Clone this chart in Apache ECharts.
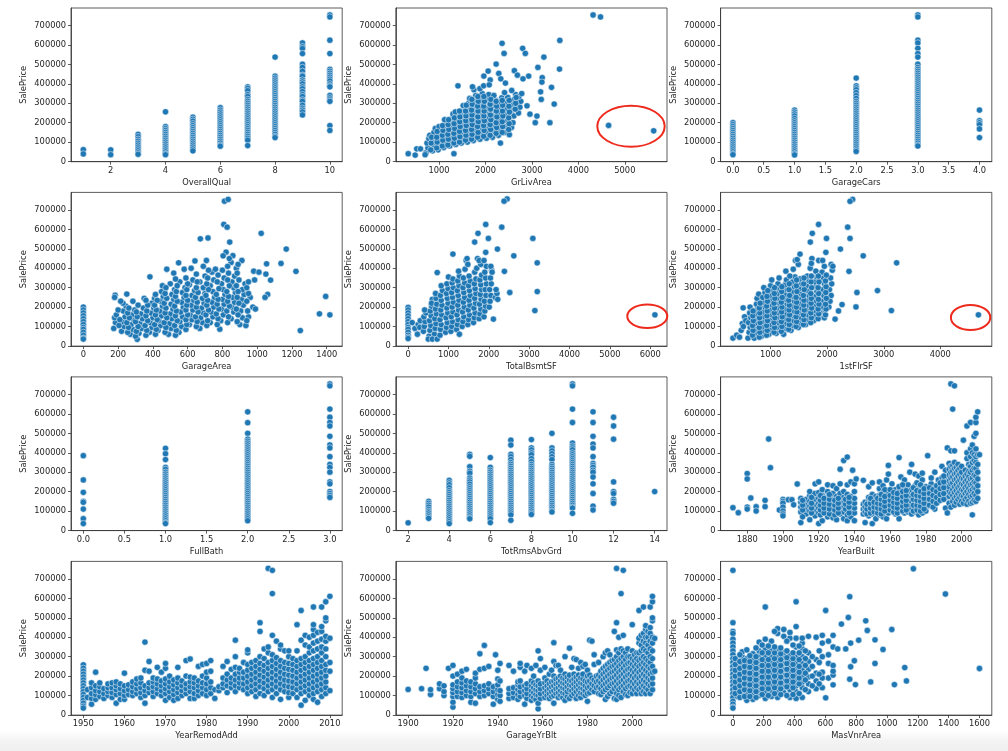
<!DOCTYPE html>
<html><head><meta charset="utf-8">
<script src="https://cdn.jsdelivr.net/npm/echarts@6/dist/echarts.min.js"></script>
<style>html,body{margin:0;padding:0;background:#fff}#c{width:1008px;height:751px}</style>
</head><body><div id="c"></div>
<script>
// ---------- tick labels ----------
const yTicks = [0,100000,200000,300000,400000,500000,600000,700000];
const yLimits = [-1105, 791005];

// ---------- data (SalePrice in thousands) ----------
const overallQualCols = [
 [1,[61,39]],[2,[60,35]],
 [3,[140,128,115,105,95,85,75,65,55,45,37]],
 [4,[256,180,170,160,150,140,130,120,110,100,90,80,70,60,50,40,35]],
 [5,[228,218,208,195,185,175,165,155,145,135,125,115,105,95,85,75,65,55]],
 [6,[277,265,255,245,235,225,215,205,195,185,175,165,155,145,135,125,115,105,95,85,79]],
 [7,[385,377,365,345,335,320,310,300,290,280,270,260,250,240,230,220,210,200,190,180,170,160,150,140,130,120,110,82]],
 [8,[538,440,430,420,410,400,390,380,370,360,350,340,330,320,310,300,290,280,270,260,250,240,230,220,210,200,190,180,170,160,150,140,130,123]],
 [9,[611,592,582,556,501,485,465,445,440,420,410,400,385,375,360,345,335,318,310,290,275,265,255,240]],
 [10,[755,745,625,556,475,465,455,445,435,425,415,400,390,385,340,328,318,310,185,160]]
];
const grLivAreaPts = [
 [720,45],[760,70],[740,95],[780,118],[800,135],
 [860,55],[900,82],[870,105],[910,128],[890,150],[920,170],
 [980,60],[1010,88],[1030,112],[990,135],[1040,158],[1000,180],
 [1100,72],[1130,98],[1150,122],[1110,145],[1140,170],[1160,195],[1120,215],
 [1230,80],[1260,105],[1280,128],[1240,150],[1270,175],[1250,200],[1290,222],[1300,245],
 [1360,88],[1390,112],[1410,138],[1370,160],[1400,185],[1380,210],[1420,235],[1350,255],
 [1480,95],[1510,120],[1530,145],[1490,168],[1520,192],[1540,215],[1500,240],[1550,262],[1520,288],
 [1610,100],[1640,128],[1660,152],[1620,175],[1650,200],[1670,225],[1630,250],[1680,275],[1640,300],[1660,325],
 [1740,108],[1770,135],[1790,160],[1750,185],[1780,210],[1800,235],[1760,260],[1810,285],[1770,310],[1790,340],[1750,370],[1720,385],
 [1880,115],[1910,142],[1930,168],[1890,195],[1920,220],[1940,245],[1900,270],[1950,295],[1910,320],[1930,350],[1880,375],[1960,390],
 [2020,120],[2050,148],[2070,175],[2030,200],[2060,225],[2080,250],[2040,275],[2090,300],[2050,325],[2070,345],[2100,420],[2080,395],
 [2150,125],[2180,155],[2200,182],[2160,208],[2190,235],[2210,262],[2170,288],[2220,315],[2180,340],
 [2280,135],[2310,165],[2330,192],[2290,220],[2320,248],[2340,275],[2300,300],[2350,328],
 [2420,150],[2450,180],[2470,210],[2430,240],[2460,270],[2440,300],[2480,330],[2410,355],
 [2560,175],[2590,200],[2610,235],[2570,265],[2600,295],[2620,320],[2650,345],
 [2710,250],[2740,280],[2760,310],[2720,335],[2780,350],
 [4316,755],[4476,745],[2357,609],[2400,557],[3600,624],[2800,583],[2857,557],[3257,538],[3128,485],[2229,502],
 [3593,476],[2621,468],[3221,432],[3214,409],[3421,382],[3186,359],[3200,320],[3479,296],[2957,244],[3107,234],
 [3071,200],[3386,200],[4650,186],[5621,158],[1407,390],[2929,440],[2807,426],[2686,445],[2057,466],[1964,440],
 [2286,454],[2329,426],[2429,404],[2564,366],[2893,287],[2514,138],[2321,95],[336,40],[486,33],[520,65],[600,65],[700,35],[1320,40]
];
const grLivAreaFill = [
 [820,60],[830,95],[840,125],[950,70],[960,100],[950,125],[960,155],[1070,80],[1080,110],[1070,135],[1085,160],[1075,185],
 [1190,85],[1200,115],[1190,140],[1210,165],[1195,190],[1205,215],[1320,95],[1330,120],[1320,145],[1335,170],[1325,195],[1330,225],
 [1440,100],[1450,128],[1440,155],[1455,180],[1445,205],[1450,230],[1440,260],[1570,110],[1580,135],[1570,160],[1585,185],[1575,210],
 [1580,235],[1570,260],[1585,290],[1700,115],[1710,140],[1700,165],[1715,190],[1705,215],[1710,240],[1700,265],[1715,295],[1705,320],
 [1830,125],[1840,150],[1830,180],[1845,205],[1835,230],[1840,260],[1830,285],[1845,310],[1835,335],[1960,130],[1970,160],[1960,185],
 [1975,210],[1965,235],[1970,260],[1960,285],[1975,310],[1965,335],[2100,135],[2110,165],[2100,190],[2115,215],[2105,240],[2110,270],
 [2100,295],[2115,320],[2230,145],[2240,175],[2230,200],[2245,230],[2235,260],[2240,285],[2230,310],[2360,150],[2370,180],[2360,205],
 [2375,235],[2365,260],[2370,290],[2360,315],[2500,165],[2510,195],[2500,225],[2515,255],[2505,285],[2510,315],[2640,270],[2650,300],[2660,330]
];
const garageCarsCols = [
 [0,[200,190,180,170,160,150,140,130,120,110,100,90,80,70,60,50,40,35]],
 [1,[265,255,245,235,222,210,200,190,180,170,160,150,140,130,120,110,100,90,80,70,60,50,40,34]],
 [2,[430,390,380,370,355,340,325,310,300,290,280,270,260,250,240,230,220,210,200,190,180,170,160,150,140,130,120,110,100,90,80,70,60,52]],
 [3,[755,745,625,611,583,556,538,501,485,475,465,455,445,435,425,415,405,395,385,375,365,355,345,335,325,315,305,295,285,275,265,255,245,235,225,215,205,195,185,175,165,155,145,135,125,115,105,95,85,80]],
 [4,[265,210,200,190,168,123]]
];
const garageAreaPts = [
 [0,200],[0,185],[0,170],[0,155],[0,140],[0,125],[0,110],[0,95],[0,85],[0,70],[0,55],[0,40],[0,35],
 [175,90],[185,120],[180,145],[190,160],[183,261],[180,250],
 [220,75],[235,100],[225,125],[240,150],[230,180],[245,205],[250,267],[228,220],
 [270,60],[285,85],[275,110],[290,135],[280,160],[295,185],[285,230],
 [310,34],[320,65],[335,90],[325,115],[340,140],[330,165],[345,195],[350,245],
 [380,70],[395,95],[385,120],[400,145],[390,170],[405,195],[395,220],[410,245],[383,356],
 [430,80],[445,105],[435,130],[450,155],[440,180],[455,205],[445,230],[460,255],[450,280],[455,310],
 [490,60],[505,90],[495,115],[510,140],[500,165],[515,190],[505,215],[520,240],[510,265],[525,290],[500,320],[480,395],[520,375],
 [550,70],[565,100],[555,125],[570,150],[560,175],[575,200],[565,225],[580,250],[570,275],[585,300],[555,330],[548,428],[580,395],
 [610,110],[625,135],[615,160],[630,185],[620,210],[635,235],[625,260],[640,285],[610,315],[630,340],[620,400],[642,438],
 [670,90],[685,120],[675,145],[690,170],[680,195],[695,220],[685,245],[700,270],[690,300],[670,330],[700,360],[690,410],[708,440],[673,552],[717,556],
 [730,120],[745,150],[735,175],[750,200],[740,225],[755,250],[745,280],[730,310],[750,340],[740,380],[760,395],
 [785,86],[790,130],[805,160],[795,190],[810,215],[800,240],[815,265],[805,290],[795,320],[810,350],[800,390],[821,483],[804,464],
 [850,140],[865,175],[855,200],[870,225],[860,250],[875,275],[865,300],[855,330],[870,360],[850,430],[860,465],[880,400],
 [900,110],[915,145],[905,180],[920,210],[910,240],[925,265],[915,290],[930,320],[912,440],[935,105],
 [950,150],[960,250],[975,200],[990,190],[985,340],[980,385],[1010,380],
 [812,746],[833,755],[808,626],[827,612],[842,535],[1023,580],[1167,499],[1137,425],[1223,384],[1054,423],
 [1050,370],[1060,265],[1045,250],[1077,339],[1394,255],[1358,165],[1418,160],[1248,79]
];
const garageAreaFill = [
 [205,105],[210,135],[200,185],[215,230],
 [255,70],[260,95],[250,120],[265,145],[255,170],[262,195],
 [300,50],[305,75],[315,100],[300,125],[310,150],[305,175],[315,210],
 [360,55],[365,80],[355,105],[370,130],[360,155],[365,180],[370,210],[360,235],
 [415,60],[420,85],[410,110],[425,135],[415,160],[420,185],[410,210],[425,235],[415,265],
 [470,70],[475,95],[465,120],[480,145],[470,170],[475,195],[465,220],[480,245],[470,270],[475,300],
 [530,55],[535,80],[525,105],[540,130],[530,155],[535,180],[525,205],[540,230],[530,255],[535,280],[540,310],[530,345],
 [590,85],[595,110],[590,135],[600,160],[590,185],[595,210],[600,235],[590,260],[595,290],[600,320],[590,350],
 [650,100],[655,125],[645,150],[660,175],[650,200],[655,225],[645,250],[660,275],[650,300],[655,330],[650,370],
 [710,105],[715,130],[705,160],[720,185],[710,210],[715,235],[705,260],[720,290],[710,320],[715,350],[720,390],
 [770,110],[775,140],[765,165],[780,190],[770,215],[775,240],[765,265],[780,295],[770,330],[775,365],
 [830,120],[835,150],[825,180],[840,205],[830,230],[835,255],[825,280],[840,310],[830,340],[835,375],[830,410],[840,450],
 [885,125],[890,160],[880,190],[895,220],[885,250],[890,280],[880,310],[895,340],[885,375],[890,420],
 [940,130],[945,180],[940,230],[950,270],[940,300],[950,330]
];
const totalBsmtSFPts = [
 [0,198],[0,185],[0,170],[0,155],[0,140],[0,125],[0,110],[0,95],[0,85],[0,70],[0,55],[0,45],[0,38],
 [100,120],[170,90],[230,60],[250,110],[300,130],[290,95],
 [380,75],[400,100],[420,125],[390,150],[440,170],[410,185],
 [520,50],[540,80],[560,105],[530,130],[570,155],[550,180],[580,205],[500,35],[600,240],[580,220],
 [650,60],[670,90],[690,115],[660,140],[700,165],[680,190],[710,215],[690,245],[680,270],[600,35],[720,35],[721,378],
 [790,55],[800,85],[820,110],[790,135],[830,160],[810,185],[840,210],[820,235],[800,260],[850,285],[820,310],
 [930,70],[950,95],[970,120],[940,145],[980,170],[960,195],[990,220],[970,245],[950,270],[990,295],[960,320],[1000,355],
 [1060,75],[1080,100],[1100,125],[1070,150],[1110,175],[1090,200],[1120,225],[1100,250],[1080,275],[1120,300],[1090,325],[1110,345],[1110,473],
 [1200,85],[1220,110],[1240,135],[1210,160],[1250,185],[1230,210],[1260,235],[1240,260],[1220,285],[1260,310],[1230,335],[1270,360],[1250,385],[1270,60],
 [1340,100],[1360,125],[1380,150],[1350,175],[1390,200],[1370,225],[1400,250],[1380,275],[1360,300],[1400,325],[1370,350],[1410,395],[1440,440],
 [1480,110],[1500,135],[1520,160],[1490,185],[1530,210],[1510,235],[1540,260],[1520,285],[1500,310],[1540,335],[1510,360],[1460,450],[1480,420],
 [1620,120],[1640,145],[1660,170],[1630,195],[1670,220],[1650,245],[1680,270],[1660,295],[1640,320],[1680,345],[1650,380],[1700,400],[1720,450],[1649,535],[1732,580],
 [1760,140],[1780,165],[1800,190],[1770,215],[1810,240],[1790,265],[1820,290],[1800,315],[1780,340],[1820,365],[1800,420],[1760,440],
 [1880,150],[1900,180],[1920,205],[1890,230],[1930,260],[1910,290],[1940,320],[1920,350],[1900,380],[1940,410],[1880,440],[1923,482],[1923,626],[1989,554],
 [2010,200],[2030,230],[2050,260],[2020,290],[2060,320],[2040,350],[2070,390],[2050,410],[2080,380],
 [2160,250],[2200,270],[2220,240],[2180,290],[2113,138],[2213,499],
 [2453,757],[2378,746],[2320,612],[3091,554],[2619,464],[3199,428],[2386,384],[3200,280],[2519,275],[3141,182],[6116,160]
];
const firstFlrSFPts = [
 [334,40],[400,55],[450,45],[480,80],[500,115],[520,100],[540,150],[560,130],[515,196],
 [600,40],[620,70],[640,95],[610,120],[650,145],[630,170],[637,200],
 [710,40],[730,65],[750,90],[720,115],[760,140],[740,165],[770,190],[750,215],[760,245],[790,267],
 [840,50],[860,75],[880,100],[850,125],[890,150],[870,175],[900,200],[880,225],[860,250],[900,275],[880,300],
 [970,60],[990,85],[1010,110],[980,135],[1020,160],[1000,185],[1030,210],[1010,235],[990,260],[1030,285],[1000,310],[1020,340],
 [1100,65],[1120,95],[1140,120],[1110,145],[1150,170],[1130,195],[1160,220],[1140,245],[1120,270],[1160,295],[1130,320],[1150,350],
 [1230,60],[1250,90],[1270,115],[1240,140],[1280,165],[1260,190],[1290,215],[1270,240],[1250,265],[1290,290],[1260,315],[1280,340],[1270,385],
 [1360,80],[1380,105],[1400,130],[1370,155],[1410,180],[1390,205],[1420,230],[1400,255],[1380,280],[1420,305],[1390,330],[1430,355],[1400,395],[1440,440],
 [1490,95],[1510,120],[1530,145],[1500,170],[1540,195],[1520,220],[1550,245],[1530,270],[1510,295],[1550,320],[1520,345],[1490,420],[1470,445],[1520,473],
 [1620,110],[1640,135],[1660,160],[1630,185],[1670,210],[1650,235],[1680,260],[1660,285],[1640,310],[1680,335],[1650,360],[1700,400],[1730,450],[1720,425],
 [1760,130],[1780,155],[1800,180],[1770,205],[1810,230],[1790,255],[1820,280],[1800,305],[1780,330],[1820,355],[1800,385],[1850,440],
 [1890,150],[1910,175],[1930,200],[1900,230],[1940,260],[1920,290],[1950,320],[1930,350],[1910,380],[1950,410],[1920,440],
 [2030,200],[2050,230],[2070,260],[2040,290],[2080,320],[2060,350],[2090,390],[2070,420],[2100,410],
 [2450,755],[2404,745],[1848,626],[2363,612],[1737,580],[1702,535],[1988,554],[2404,554],[2234,499],[1977,482],
 [2637,464],[3228,428],[2386,384],[2889,285],[2526,275],[2509,201],[3135,182],[4673,160],[2140,138],[2263,213],[2200,180],[1870,170],[1950,145]
];
const firstFlrSFFill = [
 [680,55],[690,80],[680,105],[695,130],[685,155],[690,180],[800,45],[810,70],[800,95],[815,120],[805,145],[810,170],[800,195],[815,220],
 [930,55],[940,80],[930,105],[945,130],[935,155],[940,180],[930,205],[945,230],[935,255],[950,285],
 [1060,70],[1070,95],[1060,120],[1075,145],[1065,170],[1070,195],[1060,220],[1075,245],[1065,270],[1070,300],
 [1190,75],[1200,100],[1190,125],[1205,150],[1195,175],[1200,200],[1190,225],[1205,250],[1195,280],[1200,305],
 [1320,85],[1330,110],[1320,135],[1335,160],[1325,185],[1330,210],[1320,235],[1335,260],[1325,290],[1330,320],[1340,360],
 [1450,100],[1460,125],[1450,150],[1465,175],[1455,200],[1460,225],[1450,250],[1465,280],[1455,310],[1460,340],
 [1580,110],[1590,135],[1580,160],[1595,185],[1585,210],[1590,235],[1580,260],[1595,290],[1585,320],[1590,350],
 [1710,120],[1720,145],[1710,170],[1725,195],[1715,220],[1720,245],[1710,270],[1725,300],[1715,330],[1720,360],
 [1840,140],[1850,165],[1840,190],[1855,215],[1845,240],[1850,270],[1840,300],[1855,330],[1845,360],
 [1970,160],[1980,190],[1970,215],[1985,245],[1975,275],[1980,305],[1970,335],[1985,365]
];
const fullBathCols = [
 [0,[385,260,196,150,145,110,60,35]],
 [1,[423,395,365,325,315,300,290,280,270,260,250,240,230,220,210,200,190,180,170,160,150,140,130,120,110,100,90,80,70,60,50,40,35]],
 [2,[611,555,500,470,460,450,440,430,420,410,400,390,380,370,360,350,340,330,320,310,300,290,280,270,260,250,240,230,220,210,200,190,180,170,160,150,140,130,120,110,100,90,80,70,60,50]],
 [3,[755,745,625,583,556,538,485,440,425,380,340,325,300,250,240,200,190,180,170]]
];
const totRmsCols = [
 [2,[39]],
 [3,[150,140,130,120,108,98,90,80,70,62]],
 [4,[258,245,235,220,205,195,185,175,165,155,145,135,125,115,105,95,85,75,65,55,45,35]],
 [5,[392,382,328,305,295,270,260,250,238,225,215,205,195,185,175,165,155,145,135,125,115,105,95,85,75,65,60]],
 [6,[375,325,310,300,290,280,270,260,250,240,230,220,210,200,190,180,170,160,150,140,130,120,110,100,90,80,70,60,40]],
 [7,[465,440,392,380,365,350,340,330,320,310,300,290,280,270,260,250,240,230,220,210,200,190,180,170,160,150,140,130,120,110,100,90,80,52]],
 [8,[468,425,415,400,390,370,355,340,330,320,310,300,290,280,270,260,250,240,230,220,210,200,190,180,170,160,150,140,130,120,110,100,90,82]],
 [9,[500,425,410,395,380,365,340,330,320,310,300,290,280,270,260,250,240,230,220,210,200,190,180,170,160,150,140,130,120,110,100,95]],
 [10,[755,745,625,556,450,435,425,415,400,390,380,370,360,350,340,330,320,310,300,290,280,270,260,250,240,230,220,210,200,190,180,170,160,150,140,130,120,115,88]],
 [11,[611,556,485,445,425,380,345,335,325,310,300,275,240,190,125,105]],
 [12,[583,538,470,250,200,190,160,150,140]],
 [14,[200]]
];
const yearBuiltCols = [
 [1872,[117]],[1875,[91]],[1880,[293,265,120,110]],[1882,[167]],[1885,[122,100]],[1890,[155,122]],[1892,[471]],[1893,[323]],[1898,[105]],
 [1900,[160,150,140,120,100,85,75]],[1903,[158]],[1905,[158]],[1906,[132]],[1908,[239]],
 [1910,[40,95,120,145,165]],[1913,[85,110,135,160]],[1915,[55,100,125,150,180,200]],[1918,[75,105,130,160,190,240]],
 [1920,[35,90,115,140,165,195,250]],[1922,[50,100,125,150,180,210]],[1925,[70,95,120,145,170,200,235]],[1928,[65,90,115,140,165,190,230]],
 [1930,[55,100,125,150,175,215]],[1932,[85,110,135,160,190,240,315]],[1934,[60,95,120,145,170,200,360]],[1936,[50,80,110,135,160,185,235,378]],
 [1938,[70,100,125,150,175,250]],[1939,[310]],[1940,[50,90,115,140,165,200,240]],[1941,[265]],
 [1945,[85,110,135,258]],[1946,[40,95,120,145]],[1948,[75,100,125,150,170,225]],[1950,[35,85,110,135,160,185,245]],
 [1952,[60,100,125,150,175]],[1954,[80,105,130,155,180,215,250]],[1956,[70,95,120,145,170,195,230]],[1958,[60,110,135,160,185,260]],
 [1959,[90,115,140,165,290,335]],[1961,[100,125,150,175,200,240]],[1963,[85,110,135,160,185,210]],[1965,[60,100,125,150,175,200,225,375]],
 [1966,[120,145,170,275]],[1968,[90,115,140,165,190,215,260]],[1970,[95,120,145,170,195,235]],[1971,[110,135,160,185,300]],
 [1972,[85,150,175,210,340]],[1974,[95,120,145,170,195,230,290]],[1976,[80,110,135,160,185,210,280]],[1978,[90,130,155,180,205,260,295]],
 [1980,[100,125,150,175,200,225]],[1981,[385]],[1983,[125,150,175,210,240,270]],[1985,[110,160,190,220,300]],
 [1987,[150,175,200,230,260]],[1989,[165,190,215,240,270,330]],[1991,[115,170,195,220,250,280,310]],[1992,[90,185,210,235,265,425]],
 [1993,[140,175,200,225,255,285,315,345]],[1994,[120,190,240,270,300,330,410,755]],[1995,[150,180,210,245,275,305,335,625]],
 [1996,[130,165,195,225,260,290,320,350,410,745]],[1997,[145,175,205,235,265,295,325]],[1998,[160,190,220,250,280,310,340]],
 [1999,[135,170,200,230,260,290,320]],[2000,[150,180,210,240,270,300,330]],[2001,[140,175,205,235,265,465]],
 [2002,[160,190,220,250,280,310]],[2003,[135,170,200,230,260,290,370,400,538]],[2004,[150,185,215,245,275,305,340]],
 [2005,[140,175,205,235,265,300,330,380,420,556]],[2006,[80,145,180,210,240,270,310,350,400,440]],
 [2007,[155,190,220,250,285,320,360,390,485]],[2008,[150,180,215,245,280,320,350,380,420,500,556,583]],
 [2009,[165,200,230,265,300,340,390,611]],[2010,[390]]
];
const yearBuiltFill = [
 [1911,[70,105,130,155]],[1916,[90,115,140,170]],[1921,[80,105,130,155,180]],[1923,[90,115,140,165]],[1926,[85,110,135,160,185]],
 [1929,[80,105,130,155]],[1931,[90,115,140,165]],[1935,[110,135,160]],[1937,[90,120,145,170]],[1947,[85,110,135]],[1949,[90,115,140,165]],
 [1951,[95,120,145]],[1953,[90,115,140,165]],[1955,[85,110,135,160,185]],[1957,[100,125,150,175,210]],[1960,[105,130,155,180,210]],
 [1962,[95,120,145,170,195]],[1964,[90,115,140,165,190]],[1967,[100,125,150,175,200,235]],[1969,[105,130,155,180,205]],
 [1973,[100,130,160,185,220]],[1975,[105,130,155,180,205,245]],[1977,[100,125,150,175,200,235]],[1979,[110,140,165,190,215]],
 [1982,[130,160,190,220]],[1984,[120,150,180,210]],[1986,[140,170,200,230]],[1988,[155,185,215,245]],[1990,[160,190,220,250,280]]
];
const yearRemodCols = [
 [1950,[258,240,225,210,195,180,165,150,135,120,105,90,75,60,45,35]],
 [1951,[90,130]],[1952,[55,85,110,140,165]],[1953,[80,105,125,150,220]],[1954,[95,120,145,165]],[1955,[85,110,135]],
 [1956,[100,120,140,160]],[1957,[90,115,140,165]],[1958,[60,105,130,150,170]],[1959,[80,110,135,160]],[1960,[80,100,125,150,215]],
 [1961,[105,130,155]],[1962,[100,120,145,170]],[1963,[110,135,160,185]],[1964,[90,115,140,165,190]],[1965,[60,100,125,150,230,375]],
 [1966,[115,140,165,225,275]],[1967,[95,120,145,170,190]],[1968,[110,135,160,185,245]],[1969,[100,125,150,175,220]],
 [1970,[75,110,135,160,185,240,265]],[1971,[90,120,145,170,200]],[1972,[75,105,130,155,180]],[1973,[85,115,140,165,190,245]],
 [1974,[100,125,150,175]],[1975,[110,135,160,200,280]],[1976,[85,120,145,170,195,288]],[1977,[85,110,140,165,190]],
 [1978,[100,125,150,175,250]],[1979,[110,140,165,200,260]],[1980,[100,130,160,190,220,265]],[1981,[110,140,170,225,280]],
 [1982,[85,130]],[1983,[125,145]],[1984,[140,160,190,250]],[1985,[115,150,180,210,275]],[1986,[140,165,190,235]],
 [1987,[120,150,180,210,245,300,385]],[1988,[140,165,190,220,240]],[1989,[130,160,190,220,270]],
 [1990,[110,140,170,200,230,260,320,335]],[1991,[120,150,180,210,240,270]],[1992,[95,130,160,190,220,250,280]],
 [1993,[110,145,175,205,235,265,300,430,475]],[1994,[100,135,165,195,225,255,290,340]],[1995,[120,150,180,210,240,270,320,350,755]],
 [1996,[90,130,160,190,220,250,280,310,410,625,745]],[1997,[110,145,175,205,235,265,295,380]],[1998,[80,130,160,190,220,250,280,340,360]],
 [1999,[120,150,180,210,240,270,330]],[2000,[90,115,145,175,205,235,265,300,330]],[2001,[110,140,170,200,230,260,290]],
 [2002,[90,130,160,190,220,250,280,330,465]],[2003,[50,110,140,170,200,230,260,290,385,538]],[2004,[75,120,150,180,210,240,270,300,360,410]],
 [2005,[100,130,160,190,220,250,280,320,350,400]],[2006,[80,110,140,170,200,230,260,290,330,370,410,440,465,556]],
 [2007,[65,120,150,180,210,240,270,300,340,380,425]],[2008,[95,130,160,190,220,250,280,320,350,390,430,455,556]],
 [2009,[110,140,170,200,230,260,300,340,380,405,485,500,583]],[2010,[125,225,270,395,611]]
];
const garageYrBltCols = [
 [1900,[131]],[1906,[135]],[1908,[240]],[1910,[105,130]],[1914,[135,160]],[1916,[100,120,150]],[1918,[240]],
 [1920,[40,65,95,115,135,155,200,255]],[1922,[95,120,145,170,210]],[1924,[90,115,140,165,190,225]],[1926,[100,125,150,175,235]],
 [1928,[65,95,120,145,170]],[1930,[60,110,135,160,190,215]],[1932,[95,120,145,235,315]],[1934,[100,125,150,240,358]],
 [1936,[110,135,160,250]],[1938,[55,95,120,145]],[1939,[310]],[1940,[80,105,130,155,185,230]],[1941,[70,100,125,175,265]],
 [1945,[85,110,135,255]],[1947,[90,115,140,225]],[1949,[80,105,130,155,170]],[1950,[95,120,145,175,245,265]],
 [1952,[55,100,125,150,225]],[1953,[85,110,135,160,255]],[1955,[75,100,125,150,175,240]],[1956,[90,115,140,165,200]],
 [1957,[80,105,130,155,255]],[1958,[31,60,100,125,150,175,330]],[1959,[85,110,135,160,230,290]],[1961,[90,115,140,165,190,245]],
 [1962,[100,125,150,175]],[1963,[85,110,135,160,210]],[1964,[95,120,145,170,230]],[1965,[60,100,125,150,175,200,275,372]],
 [1966,[110,135,160,185,255]],[1967,[90,115,140,165,190,255]],[1968,[100,125,150,175,200,230]],[1969,[90,115,140,165,190]],
 [1970,[75,110,135,160,185,210,300]],[1971,[95,120,145,170,195]],[1972,[85,130,155,180,205,344]],[1973,[100,125,150,175,245]],
 [1974,[110,135,160,185,210,290]],[1975,[85,120,145,170,195,285]],[1976,[100,130,155,180,205,240]],[1977,[90,115,140,165,190,270]],
 [1978,[110,135,160,185,210,250]],[1979,[100,125,150,175,260]],[1980,[70,110,140,170,200,230]],[1981,[115,145,175,205,385]],
 [1982,[130,160,190,380]],[1983,[120,150,180,260,310]],[1984,[140,170,200]],[1985,[110,145,175,205,270]],[1986,[105,135,165,195,225]],
 [1987,[120,150,180,210,240,300]],[1988,[80,130,160,190,220,250,320]],[1989,[95,140,170,200,230,260,330]],
 [1990,[110,150,180,210,240,270,310]],[1991,[120,160,190,220,250,280]],[1992,[85,135,165,195,225,255,285,430]],
 [1993,[80,110,145,175,205,235,265,300,335,475,755]],[1994,[100,130,160,190,220,250,280,320,400]],
 [1995,[90,140,170,200,230,260,290,340,625]],[1996,[120,150,180,210,240,270,300,330,410,745]],
 [1997,[105,135,165,195,225,255,285,320]],[1998,[100,145,175,205,235,265,300,340]],[1999,[115,150,180,210,240,270,300]],
 [2000,[110,140,170,200,230,260,290,330,465]],[2001,[130,160,190,220,250,280,310]],[2002,[110,140,170,200,230,260,290,320]],
 [2003,[130,160,190,220,250,280,320,370,395,538]],[2004,[110,140,170,200,230,260,290,330,360,410]],
 [2005,[120,150,180,210,240,270,300,340,380,420,556]],[2006,[110,140,170,200,230,260,290,330,370,400,440,460]],
 [2007,[130,160,190,220,250,280,320,360,400,430]],[2008,[110,150,180,210,240,270,300,340,380,420,450,556]],
 [2009,[130,160,190,220,250,290,330,370,400,485,500,583,611]],[2010,[225,394]]
];
const masVnrAreaCols = [
 [0,[745,475,430,420,390,370,350,330,310,290,270,250,230,210,190,170,150,130,110,90,70,55,40,35]],
 [30,[95,125,155,185,215,245]],[60,[105,140,170,200,230,260,300,325]],[90,[75,115,145,175,205,235,270,290,335]],
 [130,[80,110,140,170,200,230,260,290,315]],[170,[100,130,160,190,220,250,280,310,330,375]],
 [210,[85,120,150,180,210,240,270,300,340,390,556]],[250,[95,125,155,185,215,245,275,305,330,380]],
 [290,[90,120,150,180,210,240,270,300,340,420,445]],[330,[115,145,175,205,235,265,295,320,405,440]],
 [370,[90,130,160,190,220,250,280,310,395,425]],[410,[85,120,150,180,210,240,270,300,350,395,455,583]],
 [450,[90,140,170,200,230,265,300,340,370,395]],[490,[120,160,195,235,275,320,405]],[540,[135,175,215,285,400]],
 [580,[140,190,220,300,370,410]],[602,[88,538]],[620,[190,265,310,380]],[650,[155,205,225,255,350,410]],[680,[340]],
 [704,[468]],[732,[340]],[749,[502]],[758,[184,609]],[764,[248,370]],[788,[279]],[795,[156]],[816,[385]],[862,[485]],
 [872,[435]],[894,[170]],[922,[265,387]],[974,[337]],[1031,[440]],[1048,[156]],[1115,[244]],[1126,[175]],
 [1171,[753]],[1379,[623]],[1600,[239]]
];
const masVnrAreaFill = [
 [15,[110,140,170,200,230,260,290]],[45,[90,120,150,180,210,240,275,310]],[75,[95,130,160,190,220,250,280]],
 [110,[95,125,155,185,215,245,275,305]],[150,[90,120,150,180,210,240,270,300,345]],[190,[105,135,165,195,225,255,285,320,360]],
 [230,[100,135,165,195,225,255,285,320,355]],[270,[110,140,170,200,230,260,290,320,350,430]],[310,[105,135,165,195,225,255,285,315,345]],
 [350,[100,145,175,205,235,265,295,330,380]],[390,[105,140,170,200,230,260,290,320,360]],[430,[110,160,190,220,250,285,320,355]],
 [470,[130,180,215,255,290,330]],[515,[150,200,250,300]],[560,[160,210,270,330]]
];

// ---------- panel definitions ----------
const names = ['OverallQual','GrLivArea','GarageCars','GarageArea','TotalBsmtSF','1stFlrSF','FullBath','TotRmsAbvGrd','YearBuilt','YearRemodAdd','GarageYrBlt','MasVnrArea'];
const sources = [
 [overallQualCols],[grLivAreaPts, grLivAreaFill],[garageCarsCols],[garageAreaPts, garageAreaFill],[totalBsmtSFPts],[firstFlrSFPts, firstFlrSFFill],
 [fullBathCols],[totRmsCols],[yearBuiltCols, yearBuiltFill],[yearRemodCols],[garageYrBltCols],[masVnrAreaCols, masVnrAreaFill]
];
const xLimits = [[0.55,10.45],[68.6,5907.4],[-0.2,4.2],[-70.9,1488.9],[-305.5,6415.5],[116.1,4909.9],[-0.15,3.15],[1.4,14.6],[1865.1,2016.9],[1947,2013],[1894.5,2015.5],[-80,1680]];
const xTicks = [
 [2,4,6,8,10],[1000,2000,3000,4000,5000],[0,0.5,1,1.5,2,2.5,3,3.5,4],[0,200,400,600,800,1000,1200,1400],
 [0,1000,2000,3000,4000,5000,6000],[1000,2000,3000,4000],[0,0.5,1,1.5,2,2.5,3],[2,4,6,8,10,12,14],
 [1880,1900,1920,1940,1960,1980,2000],[1950,1960,1970,1980,1990,2000,2010],[1900,1920,1940,1960,1980,2000],[0,200,400,600,800,1000,1200,1400,1600]
];
const oneDecimal = [false,false,true,false,false,false,true,false,false,false,false,false];

function toPoints(srcList){
  const out=[];
  srcList.forEach(src=>src.forEach(e=>{
    if(Array.isArray(e[1])) e[1].forEach(v=>out.push([e[0], v*1000]));
    else out.push([e[0], e[1]*1000]);
  }));
  return out;
}

const lefts=[71,395.8,720.6], tops=[8,192.4,376.9,561.4], W=271.2, H=153.7;
const FONT='DejaVu Sans', FS=8.3, TXT='#262626', LINE='#333';
const grid=[], xAxis=[], yAxis=[], series=[];
names.forEach((nm,i)=>{
  const r=Math.floor(i/3), c=i%3;
  grid.push({left:lefts[c], top:tops[r], width:W, height:H, show:true, borderColor:LINE, borderWidth:0.8, backgroundColor:'#fff', containLabel:false, outerBoundsMode:'none'});
  const fmt = oneDecimal[i] ? (v=>Number(v).toFixed(1)) : (v=>String(Math.round(v)));
  xAxis.push({gridIndex:i, type:'value', min:xLimits[i][0], max:xLimits[i][1], name:nm, nameLocation:'middle', nameGap:17,
    nameTextStyle:{fontFamily:FONT, fontSize:FS, color:TXT},
    axisLine:{show:true, onZero:false, lineStyle:{color:LINE, width:0.8}},
    axisTick:{show:true, length:3, customValues:xTicks[i], lineStyle:{color:LINE, width:0.8}},
    axisLabel:{customValues:xTicks[i], formatter:fmt, margin:5, fontFamily:FONT, fontSize:FS, color:TXT},
    splitLine:{show:false}});
  yAxis.push({gridIndex:i, type:'value', min:yLimits[0], max:yLimits[1], name:'SalePrice', nameLocation:'middle', nameGap:43,
    nameTextStyle:{fontFamily:FONT, fontSize:FS, color:TXT},
    axisLine:{show:true, onZero:false, lineStyle:{color:LINE, width:0.8}},
    axisTick:{show:true, length:3, customValues:yTicks, lineStyle:{color:LINE, width:0.8}},
    axisLabel:{customValues:yTicks, formatter:v=>String(Math.round(v)), margin:5, fontFamily:FONT, fontSize:FS, color:TXT},
    splitLine:{show:false}});
  series.push({type:'scatter', xAxisIndex:i, yAxisIndex:i, data:toPoints(sources[i]), symbol:'circle', symbolSize:6.3, silent:true,
    itemStyle:{color:'#1f77b4', borderColor:'#ffffff', borderWidth:0.5, opacity:1}});
});

const chart = echarts.init(document.getElementById('c'), null, {renderer:'canvas'});
chart.setOption({animation:false, backgroundColor:'#fff', grid, xAxis, yAxis, series});

// red annotation ellipses (centers in data coordinates)
const marks = [
  {panel:1, at:[5132,181600], rx:33.7, ry:20.5},
  {panel:4, at:[5927,152700], rx:20, ry:11.8},
  {panel:5, at:[4535,146000], rx:19.7, ry:12.5}
];
const graphic = marks.map(m=>{
  const p = chart.convertToPixel({xAxisIndex:m.panel, yAxisIndex:m.panel}, m.at);
  return {type:'ellipse', z:100, shape:{cx:p[0], cy:p[1], rx:m.rx, ry:m.ry}, style:{fill:'none', stroke:'#ee2a1d', lineWidth:2}};
});
graphic.push({type:'rect', z:-1, shape:{x:0, y:731, width:1008, height:20},
  style:{fill:new echarts.graphic.LinearGradient(0,0,0,1,[{offset:0,color:'#ffffff'},{offset:0.5,color:'#f3f3f3'},{offset:1,color:'#efefef'}])}});
chart.setOption({graphic});
</script></body></html>
